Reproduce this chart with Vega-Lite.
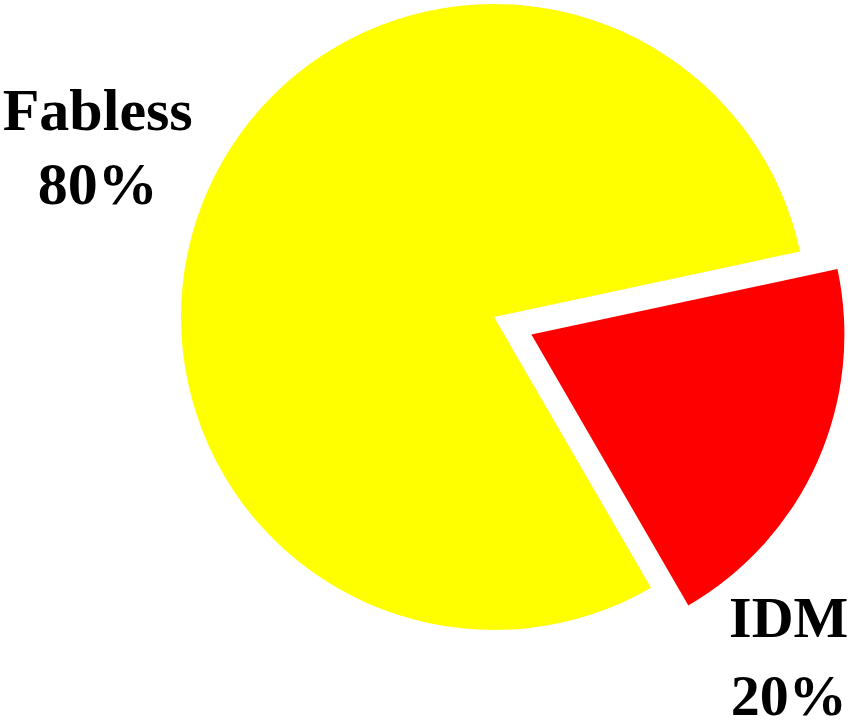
{
  "$schema": "https://vega.github.io/schema/vega-lite/v6.json",
  "autosize": "none",
  "width": 626,
  "height": 626,
  "padding": {"left": 181, "top": 4, "right": 43, "bottom": 93},
  "background": "white",
  "config": {"view": {"stroke": null}},
  "data": {
    "values": [
      {"segment": "Fabless", "share": 80, "label": "Fabless\n80%"},
      {"segment": "IDM", "share": 20, "label": "IDM\n20%"}
    ]
  },
  "transform": [
    {"stack": "share", "groupby": [], "as": ["s0", "s1"], "sort": [{"field": "segment", "order": "ascending"}]}
  ],
  "encoding": {
    "theta": {"field": "s0", "type": "quantitative", "scale": {"domain": [0, 100], "range": [2.6163, 8.8995]}},
    "theta2": {"field": "s1"},
    "color": {"field": "segment", "type": "nominal", "scale": {"domain": ["Fabless", "IDM"], "range": ["#FFFF00", "#FF0000"]}, "legend": null}
  },
  "layer": [
    {
      "transform": [{"filter": "datum.segment === 'Fabless'"}],
      "mark": {"type": "arc", "outerRadius": 313, "stroke": null}
    },
    {
      "transform": [{"filter": "datum.segment === 'IDM'"}],
      "mark": {"type": "arc", "outerRadius": 313, "stroke": null, "xOffset": 37.4, "yOffset": 17.6}
    },
    {
      "transform": [{"filter": "datum.segment === 'Fabless'"}],
      "mark": {"type": "text", "radius": 446.3, "thetaOffset": 2.574, "font": "Liberation Serif", "fontWeight": "bold", "fontSize": 60, "lineHeight": 74, "lineBreak": "\n", "align": "center", "baseline": "middle"},
      "encoding": {"text": {"field": "label"}, "color": {"value": "black"}, "theta2": null}
    },
    {
      "transform": [{"filter": "datum.segment === 'IDM'"}],
      "mark": {"type": "text", "radius": 422.7, "thetaOffset": 1.0105, "font": "Liberation Serif", "fontWeight": "bold", "fontSize": 58, "lineHeight": 78, "lineBreak": "\n", "align": "center", "baseline": "middle"},
      "encoding": {"text": {"field": "label"}, "color": {"value": "black"}, "theta2": null}
    }
  ]
}
